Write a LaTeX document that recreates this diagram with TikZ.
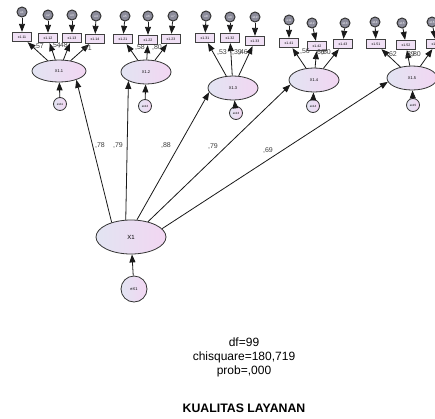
\documentclass[tikz,border=0pt]{standalone}
\usepackage{fontspec}
\setmainfont{Liberation Sans}
\usetikzlibrary{arrows.meta,shapes.geometric}
\definecolor{latL}{RGB}{226,228,242}
\definecolor{latR}{RGB}{242,214,242}
\definecolor{boxfill}{RGB}{240,224,245}
\definecolor{errfill}{RGB}{140,140,155}
\begin{document}
\begin{tikzpicture}[x=1pt,y=-1pt,
  lat/.style={ellipse, draw=black!80, line width=0.8pt, left color=latL, right color=latR, inner sep=0pt, minimum width=50pt, minimum height=24pt, font=\fontsize{4}{5}\selectfont},
  obs/.style={rectangle, draw=black!75, line width=1.3pt, fill=boxfill, minimum width=19pt, minimum height=9pt, inner sep=0pt, font=\fontsize{3.5}{4}\selectfont},
  err/.style={circle, draw=black!80, line width=1pt, fill=errfill, minimum size=10pt, inner sep=0pt, font=\fontsize{3}{3}\selectfont, text=white},
  errb/.style={circle, draw=black!80, line width=0.8pt, left color=latL, right color=latR, minimum size=13pt, inner sep=0pt, font=\fontsize{3}{3}\selectfont},
  lbl/.style={font=\fontsize{7}{8}\selectfont, text=black!75, inner sep=0pt},
  arr/.style={-{Triangle[length=8pt,width=6pt]}, line width=0.8pt, draw=black!90},
  arrl/.style={-{Triangle[length=8pt,width=6pt]}, line width=0.8pt, draw=black!90}]
\useasboundingbox (0,0) rectangle (435,418);
\fill[white] (0,0) rectangle (435,418);

% ---- group 1
\node[lat, minimum width=54pt, minimum height=22pt] (X11) at (59,71) {X1.1};
\node[obs] (b111) at (22,37) {x1.11};
\node[obs] (b112) at (48,38) {x1.12};
\node[obs] (b113) at (72,38) {x1.13};
\node[obs] (b114) at (95,39) {x1.14};
\node[err] (e1) at (22,12) {e1};
\node[err] (e2) at (48,15) {e2};
\node[err] (e3) at (72,15) {e3};
\node[err] (e4) at (96,16) {e4};
\node[errb] (ex11) at (60,104) {ex11};
% ---- group 2
\node[lat] (X12) at (146,72) {X1.2};
\node[obs] (b121) at (123,39) {x1.21};
\node[obs] (b122) at (148,40) {x1.22};
\node[obs] (b123) at (171,39) {x1.23};
\node[err] (e5) at (125,16) {e5};
\node[err] (e6) at (148,16) {e6};
\node[err] (e7) at (173,16) {e7};
\node[errb] (ex12) at (145,106) {ex12};
% ---- group 3
\node[lat] (X13) at (233,88) {X1.3};
\node[obs] (b131) at (205,38) {x1.31};
\node[obs] (b132) at (230,38) {x1.32};
\node[obs] (b133) at (255,41) {x1.33};
\node[err] (e8) at (206,16) {e8};
\node[err] (e9) at (230,17) {e9};
\node[err] (e10) at (255,17) {e10};
\node[errb] (ex13) at (236,113) {ex13};
% ---- group 4
\node[lat] (X14) at (314,80) {X1.4};
\node[obs] (b141) at (289,43) {x1.41};
\node[obs] (b142) at (317,46) {x1.42};
\node[obs] (b143) at (343,44) {x1.43};
\node[err] (e11) at (289,20) {e11};
\node[err] (e12) at (312,23) {e12};
\node[err] (e13) at (345,23) {e13};
\node[errb] (ex14) at (313,106) {ex14};
% ---- group 5
\node[lat] (X15) at (412,78) {X1.5};
\node[obs] (b151) at (376,44) {x1.51};
\node[obs] (b152) at (406,45) {x1.52};
\node[obs] (b153) at (436,44) {x1.53};
\node[err] (e14) at (375,22) {e14};
\node[err] (e15) at (402,23) {e15};
\node[err] (e16) at (432,22) {e16};
\node[errb] (ex15) at (413,105) {ex15};
% ---- second order
\node[lat, minimum width=70pt, minimum height=34pt, font=\fontsize{6}{7}\selectfont] (X1) at (131,237) {X1};
\node[errb, minimum size=26pt, font=\fontsize{4}{5}\selectfont] (eX1) at (134,289) {eX1};

% ---- arrows
\foreach \e/\b in {e1/b111,e2/b112,e3/b113,e4/b114,e5/b121,e6/b122,e7/b123,e8/b131,e9/b132,e10/b133,e11/b141,e12/b142,e13/b143,e14/b151,e15/b152,e16/b153}
  \draw[arr] (\e) -- (\b);
\foreach \l/\b in {X11/b111,X11/b112,X11/b113,X11/b114,X12/b121,X12/b122,X12/b123,X13/b131,X13/b132,X13/b133,X14/b141,X14/b142,X14/b143,X15/b151,X15/b152,X15/b153}
  \draw[arr] (\l) -- (\b);
\foreach \e/\l in {ex11/X11,ex12/X12,ex13/X13,ex14/X14,ex15/X15,eX1/X1}
  \draw[arr] (\e) -- (\l);
\draw[arrl] (X1.143) -- (X11.-27);
\draw[arrl] (X1.107) -- (X12.207);
\draw[arrl] (X1.71) -- (X13.190);
\draw[arrl] (X1.42) -- (X14.191);
\draw[arrl] (X1.15) -- (X15.189);

% ---- coefficients
\node[lbl] (l111) at (39,47) {,57};
\node[lbl] (l112) at (56,46) {,54};
\node[lbl] (l113) at (63,46) {,48};
\node[lbl] (l114) at (87,49) {,41};
\node[lbl] (l122) at (140,48) {,58};
\node[lbl] (l123) at (157,48) {,80};
\node[lbl] (l131) at (222,53) {,53};
\node[lbl] (l132) at (237,53) {,39};
\node[lbl] (l133) at (243,53) {,46};
\node[lbl] (l141) at (305,52) {,56};
\node[lbl] (l142) at (320,53) {,66};
\node[lbl] (l143) at (326,53) {,60};
\node[lbl] (l151) at (392,55) {,62};
\node[lbl] (l152) at (410,55) {,39};
\node[lbl] (l153) at (416,55) {,80};
\node[lbl] (p1) at (100,145) {,78};
\node[lbl] (p2) at (118,145) {,79};
\node[lbl] (p3) at (166,145) {,88};
\node[lbl] (p4) at (213,146) {,79};
\node[lbl] (p5) at (268,150) {,69};

% ---- fit text
\node[align=center, font=\fontsize{12}{14}\selectfont, inner sep=0pt] (fit) at (244,357) {df=99\\chisquare=180,719\\prob=,000};
\node[font=\fontsize{12.3}{14}\selectfont\bfseries, inner sep=0pt] (title) at (244,408) {KUALITAS LAYANAN};
\end{tikzpicture}
\end{document}
